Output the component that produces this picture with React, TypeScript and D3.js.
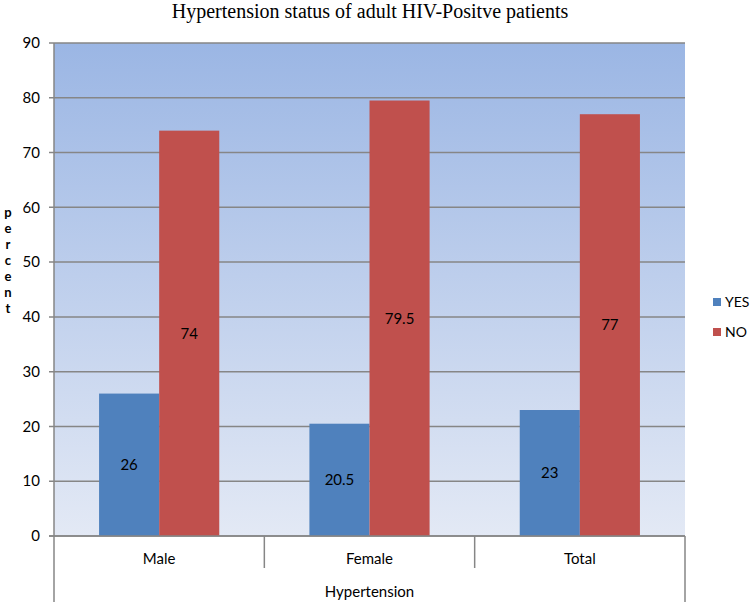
import React from "react";
import * as d3 from "d3";

const categories = ["Male", "Female", "Total"];
const seriesNames = ["YES", "NO"];
const yesValues = [26, 20.5, 23];
const noValues = [74, 79.5, 77];
const yTicks = [0, 10, 20, 30, 40, 50, 60, 70, 80, 90];
const seriesColors = ["#4f81bd", "#c0504d"];

const W = 750;
const H = 602;
const left = 54;
const right = 685;
const top = 43;
const bottom = 536;
const labelFont = "Lato, 'Open Sans', sans-serif";
const fs = 15;

export default function App() {
  const x = d3.scaleBand<string>().domain(categories).range([left, right]);
  const inner = d3
    .scaleBand<string>()
    .domain(seriesNames)
    .range([0, x.bandwidth()])
    .paddingOuter(0.75);
  const y = d3.scaleLinear().domain([0, 90]).range([bottom, top]);

  const rows = categories.map((c, i) => ({
    cat: c,
    vals: [yesValues[i], noValues[i]],
  }));

  const axisCol = "#868686";

  return (
    <svg
      width={W}
      height={H}
      style={{ position: "absolute", left: 0, top: 0, background: "#fff" }}
    >
      <defs>
        <linearGradient id="bg" x1="0" y1="0" x2="0" y2="1">
          <stop offset="0" stopColor="#9bb6e4" />
          <stop offset="1" stopColor="#e3e9f5" />
        </linearGradient>
      </defs>

      <text
        x={370}
        y={18}
        textAnchor="middle"
        fontFamily="'Liberation Serif', 'Times New Roman', serif"
        fontSize={20}
        fill="#000"
      >
        Hypertension status of adult HIV-Positve patients
      </text>

      <rect x={left} y={top} width={right - left} height={bottom - top} fill="url(#bg)" />

      {/* gridlines */}
      {yTicks.map((t) => (
        <line
          key={"g" + t}
          x1={left - 5}
          x2={right}
          y1={y(t)}
          y2={y(t)}
          stroke={axisCol}
          strokeWidth={1.5}
        />
      ))}

      {/* bars */}
      {rows.map((r) => (
        <g key={r.cat} transform={`translate(${x(r.cat)},0)`}>
          {r.vals.map((v, j) => (
            <g key={j}>
              <rect
                x={inner(seriesNames[j])}
                y={y(v)}
                width={inner.bandwidth()}
                height={y(0) - y(v)}
                fill={seriesColors[j]}
              />
              <text
                x={(inner(seriesNames[j]) as number) + inner.bandwidth() / 2}
                y={y(v / 2)}
                dy="0.35em"
                textAnchor="middle"
                fontFamily={labelFont}
                fontSize={fs}
                fill="#000"
              >
                {v}
              </text>
            </g>
          ))}
        </g>
      ))}

      {/* axis lines */}
      <line x1={left} x2={left} y1={top} y2={H} stroke={axisCol} strokeWidth={1.5} />
      <line x1={right} x2={right} y1={bottom} y2={H} stroke={axisCol} strokeWidth={1.5} />
      <line x1={left - 5} x2={right} y1={bottom} y2={bottom} stroke={axisCol} strokeWidth={1.5} />
      {categories.slice(1).map((c) => (
        <line
          key={"d" + c}
          x1={x(c)}
          x2={x(c)}
          y1={bottom}
          y2={568}
          stroke={axisCol}
          strokeWidth={1.5}
        />
      ))}

      {/* y tick labels */}
      {yTicks.map((t) => (
        <text
          key={"t" + t}
          x={40}
          y={y(t)}
          dy="0.35em"
          textAnchor="end"
          fontFamily={labelFont}
          fontSize={fs}
          fill="#000"
        >
          {t}
        </text>
      ))}

      {/* category labels */}
      {categories.map((c) => (
        <text
          key={"c" + c}
          x={(x(c) as number) + x.bandwidth() / 2}
          y={559}
          dy="0.35em"
          textAnchor="middle"
          fontFamily={labelFont}
          fontSize={fs}
          fill="#000"
        >
          {c}
        </text>
      ))}
      <text
        x={(left + right) / 2}
        y={592}
        dy="0.35em"
        textAnchor="middle"
        fontFamily={labelFont}
        fontSize={fs}
        fill="#000"
      >
        Hypertension
      </text>

      {/* y axis title, stacked letters */}
      {"percent".split("").map((ch, i) => (
        <text
          key={"p" + i}
          x={8}
          y={212 + i * 16}
          dy="0.35em"
          textAnchor="middle"
          fontFamily={labelFont}
          fontWeight="bold"
          fontSize={13}
          fill="#000"
        >
          {ch}
        </text>
      ))}

      {/* legend */}
      {seriesNames.map((s, i) => (
        <g key={"l" + s} transform={`translate(713,${302 + i * 30})`}>
          <rect x={0} y={-4} width={8} height={8} fill={seriesColors[i]} />
          <text x={12} y={0} dy="0.35em" fontFamily={labelFont} fontSize={14} fill="#000">
            {s}
          </text>
        </g>
      ))}
    </svg>
  );
}
